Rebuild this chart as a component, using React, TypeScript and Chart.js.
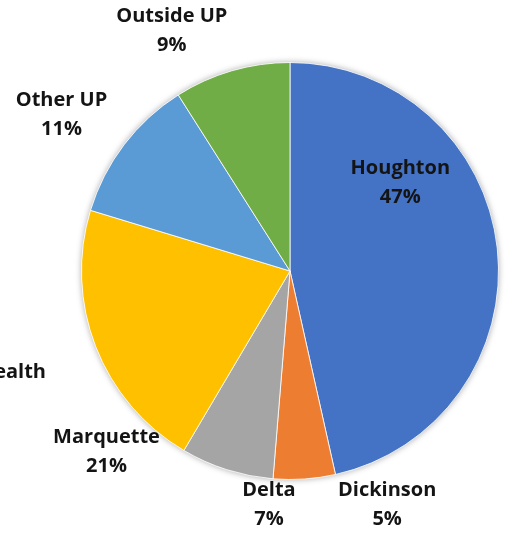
import React, { useEffect, useRef } from "react";
import { Chart, registerables } from "chart.js";

Chart.register(...registerables);

const categories = ["Houghton", "Dickinson", "Delta", "Marquette", "Other UP", "Outside UP"];
const shares = [46.5, 4.8, 7.2, 21.2, 11.3, 9.0];
const percentLabels = ["47%", "5%", "7%", "21%", "11%", "9%"];
const sliceColors = ["#4472C4", "#ED7D31", "#A5A5A5", "#FFC000", "#5B9BD5", "#70AD47"];
// label anchor offsets from pie centre, in units of the pie radius
const labelAnchors: [number, number][] = [
  [0.529, -0.423],
  [0.466, 1.12],
  [-0.101, 1.12],
  [-0.88, 0.865],
  [-1.096, -0.75],
  [-0.567, -1.154],
];
const strayText = "ealth";

const FONT = "bold 20px 'Open Sans', 'DejaVu Sans', sans-serif";

const shadowPlugin = {
  id: "pieShadow",
  beforeDatasetsDraw(chart: any) {
    const meta = chart.getDatasetMeta(0);
    const arc = meta.data[0];
    if (!arc) return;
    const { x, y, outerRadius } = arc.getProps(["x", "y", "outerRadius"], true);
    const ctx = chart.ctx;
    ctx.save();
    ctx.shadowColor = "rgba(0,0,0,0.35)";
    ctx.shadowBlur = 6;
    ctx.fillStyle = "#ffffff";
    ctx.beginPath();
    ctx.arc(x, y, outerRadius, 0, Math.PI * 2);
    ctx.fill();
    ctx.restore();
  },
};

const labelPlugin = {
  id: "pieLabels",
  afterDatasetsDraw(chart: any) {
    const meta = chart.getDatasetMeta(0);
    const ctx = chart.ctx;
    ctx.save();
    ctx.font = FONT;
    ctx.fillStyle = "#141414";
    ctx.textAlign = "center";
    ctx.textBaseline = "middle";
    meta.data.forEach((arc: any, i: number) => {
      const { x, y, outerRadius } = arc.getProps(["x", "y", "outerRadius"], true);
      const [fx, fy] = labelAnchors[i];
      const lx = x + fx * outerRadius;
      const ly = y + fy * outerRadius;
      ctx.fillText(categories[i], lx, ly - 14.5);
      ctx.fillText(percentLabels[i], lx, ly + 14.5);
    });
    ctx.textAlign = "right";
    ctx.fillText(strayText, 46, 372);
    ctx.restore();
  },
};

export default function App() {
  const ref = useRef<HTMLCanvasElement | null>(null);
  useEffect(() => {
    document.body.style.margin = "0";
    if (!ref.current) return;
    const chart = new Chart(ref.current, {
      type: "pie",
      data: {
        labels: categories,
        datasets: [
          {
            data: shares,
            backgroundColor: sliceColors,
            borderColor: "rgba(255,255,255,0.8)",
            borderWidth: 1,
          },
        ],
      },
      options: {
        animation: false,
        responsive: false,
        layout: { padding: { left: 81, right: 10, top: 62, bottom: 55 } },
        plugins: {
          legend: { display: false },
          tooltip: { enabled: false },
        },
      },
      plugins: [shadowPlugin, labelPlugin],
    });
    return () => chart.destroy();
  }, []);
  return (
    <div style={{ position: "fixed", left: 0, top: 0, width: 509, height: 535, background: "#fff" }}>
      <canvas ref={ref} width={509} height={535} />
    </div>
  );
}
